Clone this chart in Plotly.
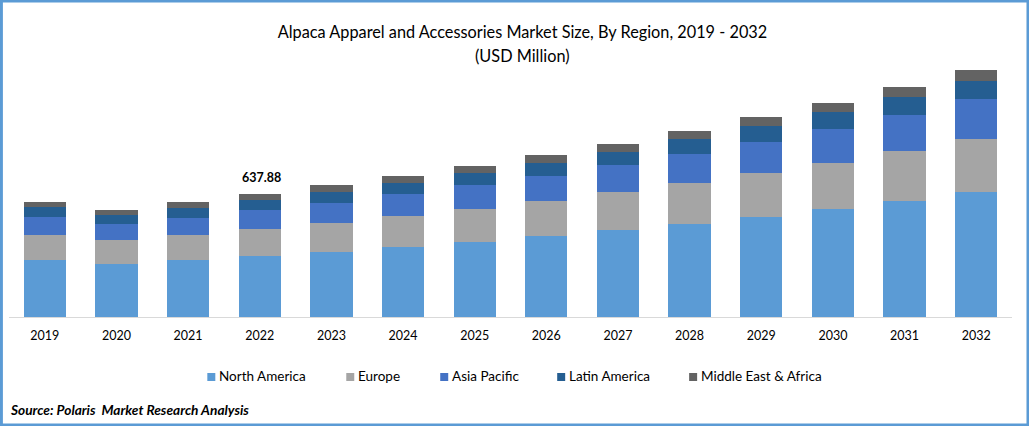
#!/usr/bin/env python
"""Alpaca apparel market size, stacked by region."""
import plotly.graph_objects as go

years = ["2019", "2020", "2021", "2022", "2023", "2024", "2025",
         "2026", "2027", "2028", "2029", "2030", "2031", "2032"]

north_america = [295.6, 274.9, 295.6, 316.4, 337.1, 363.0, 388.9,
                 420.1, 451.2, 482.3, 518.6, 560.1, 601.6, 648.2]
europe = [129.6, 124.5, 129.6, 140.0, 150.4, 160.8, 171.1,
          181.5, 197.1, 212.6, 228.2, 238.6, 259.3, 274.9]
asia_pacific = [93.3, 83.0, 88.2, 98.5, 103.7, 114.1, 124.5,
                129.6, 140.0, 150.4, 160.8, 176.3, 186.7, 207.4]
latin_america = [51.9, 46.7, 51.9, 51.9, 57.0, 57.0, 62.2,
                 67.4, 67.4, 77.8, 83.0, 88.2, 93.3, 93.3]
middle_east = [25.9, 25.9, 31.1, 31.1, 36.3, 36.3, 36.3,
               41.5, 41.5, 41.5, 46.7, 46.7, 51.9, 57.0]

series_names = ["North America", "Europe", "Asia Pacific", "Latin America", "Middle East & Africa"]
series_colors = ["#5B9BD5", "#A5A5A5", "#4472C4", "#255E91", "#636363"]
series_values = [north_america, europe, asia_pacific, latin_america, middle_east]

labelled_year = "2022"
labelled_text = "637.88"

# page geometry in pixels
WIDTH, HEIGHT = 1029, 426
LEFT, RIGHT, TOP, BOTTOM = 8.6, 17, 48, 109
FONT = "Lato"
legend_x = [207, 346, 440, 557, 689]  # left edge of each swatch


def px_x(x):
    return (x - LEFT) / (WIDTH - LEFT - RIGHT)


def px_y(y):
    return 1 - (y - TOP) / (HEIGHT - TOP - BOTTOM)


fig = go.Figure()
for name, color, values in zip(series_names, series_colors, series_values):
    fig.add_trace(go.Bar(x=years, y=values, name=name, width=0.59,
                         marker=dict(color=color, line_width=0), showlegend=False))

shapes = [dict(type="rect", xref="paper", yref="paper",
               x0=px_x(1), x1=px_x(WIDTH - 1), y0=px_y(HEIGHT - 1), y1=px_y(1),
               line=dict(color="#5B9BD5", width=3), layer="above")]
annotations = []

# hand placed legend, the plotly one cannot do tight square swatches
for x, name, color in zip(legend_x, series_names, series_colors):
    shapes.append(dict(type="rect", xref="paper", yref="paper",
                       x0=px_x(x), x1=px_x(x + 8), y0=px_y(381), y1=px_y(373),
                       fillcolor=color, line_width=0))
    annotations.append(dict(text=name, xref="paper", yref="paper", x=px_x(x + 10), y=px_y(376),
                            xanchor="left", yanchor="middle", showarrow=False,
                            font=dict(family=FONT, size=13.5, color="#000000")))

annotations.append(dict(text="<b><i>Source: Polaris  Market Research Analysis</i></b>",
                        xref="paper", yref="paper", x=px_x(8), y=px_y(410),
                        xanchor="left", yanchor="middle", showarrow=False,
                        font=dict(family=FONT, size=13.7, color="#000000")))

annotations.append(dict(text="(USD Million)", xref="paper", yref="paper",
                        x=px_x(522.5), y=px_y(56), xanchor="center", yanchor="middle",
                        showarrow=False, font=dict(family=FONT, size=16.3, color="#000000")))

# numeric category position, the year string gets treated as a number here
idx = years.index(labelled_year)
annotations.append(dict(text="<b>" + labelled_text + "</b>", xref="x", yref="y", x=idx,
                        y=sum(v[idx] for v in series_values), xanchor="center", yanchor="bottom",
                        xshift=2, yshift=7, showarrow=False,
                        font=dict(family=FONT, size=12.5, color="#000000")))

fig.update_layout(
    width=WIDTH, height=HEIGHT,
    margin=dict(l=LEFT, r=RIGHT, t=TOP, b=BOTTOM, pad=0),
    barmode="stack",
    paper_bgcolor="#FFFFFF", plot_bgcolor="#FFFFFF",
    title=dict(text="Alpaca Apparel and Accessories Market Size, By Region, 2019 - 2032",
               x=522.5 / WIDTH, xanchor="center", xref="container",
               y=1 - 32 / HEIGHT, yanchor="middle", yref="container",
               font=dict(family=FONT, size=16.3, color="#000000")),
    xaxis=dict(type="category", range=[-0.5, 13.5], showgrid=False, ticks="",
               showline=True, linecolor="#D9D9D9", linewidth=1, ticklabelstandoff=7,
               tickfont=dict(family=FONT, size=12.5, color="#000000")),
    yaxis=dict(range=[0, 1395], visible=False, showgrid=False, zeroline=False),
    shapes=shapes, annotations=annotations,
)

# default body margin would push the chart 8px off the page
fig.write_html("out.html", config=dict(displayModeBar=False),
               post_script="document.body.style.margin = '0';")
